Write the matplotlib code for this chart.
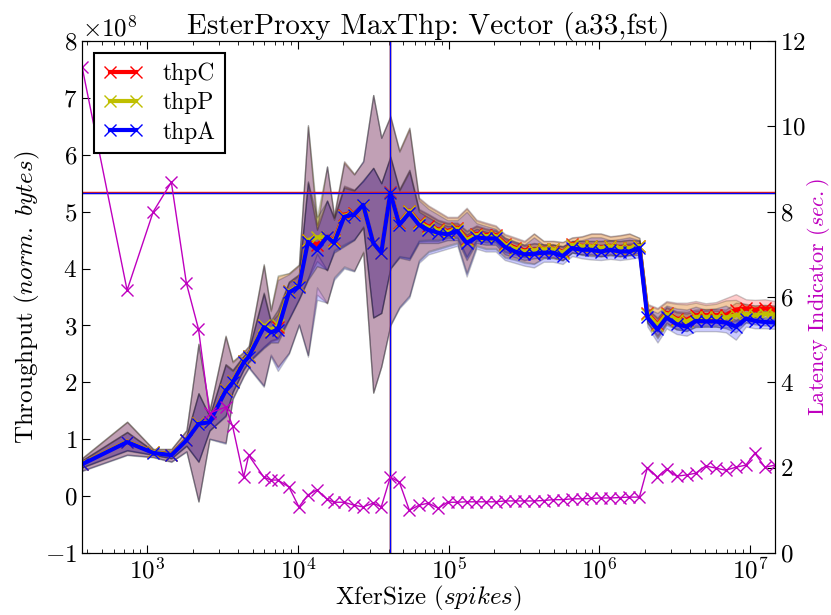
import numpy as np
import matplotlib
matplotlib.use("Agg")
import matplotlib.pyplot as plt

plt.rcParams['font.family'] = 'serif'
plt.rcParams['font.serif'] = ['cmr10']
plt.rcParams['mathtext.fontset'] = 'cm'
plt.rcParams['axes.formatter.use_mathtext'] = True
plt.rcParams['axes.unicode_minus'] = True

# rozmiary transferu (spikes)
xfer = [369, 735, 1096, 1445, 1820, 2188, 2591, 3311, 3687, 4365, 4714, 5934, 6607, 7356, 8710,
        10155, 11659, 13389, 15609, 17378, 20263, 23625, 27128, 31623, 35759, 41058, 47137,
        54954, 63580, 73560, 85230, 98470, 114300, 131800, 153200, 176500, 205500, 236300,
        275400, 318700, 368800, 427200, 493500, 571900, 660700, 766800, 884500, 1025000,
        1184000, 1372000, 1585000, 1848000,
        2089000, 2436000, 2797000, 3261000, 3802000, 4365000, 5089000, 5934000, 6918000,
        8065000, 9404000, 10800000, 12590000, 14680000]

# przepustowosc (x 1e8 bajtow)
thpC = [0.57, 0.96, 0.77, 0.73, 0.99, 1.28, 1.31, 1.87, 2.02, 2.37, 2.47, 2.99, 2.90, 2.98, 3.60,
        3.70, 4.50, 4.42, 4.55, 4.50, 4.95, 4.97, 5.10, 4.45, 4.28, 5.35, 4.80,
        5.02, 4.82, 4.74, 4.69, 4.66, 4.72, 4.52, 4.61, 4.59, 4.59, 4.44, 4.37, 4.32, 4.33,
        4.35, 4.35, 4.29, 4.43, 4.40, 4.40, 4.37, 4.40, 4.37, 4.37, 4.40,
        3.22, 3.02, 3.22, 3.12, 3.10, 3.18, 3.18, 3.18, 3.18, 3.28, 3.30, 3.28, 3.30, 3.28]
thpP = [0.57, 0.96, 0.77, 0.73, 0.99, 1.28, 1.31, 1.87, 2.02, 2.37, 2.47, 3.00, 2.92, 3.00, 3.60,
        3.70, 4.50, 4.55, 4.55, 4.48, 4.93, 4.96, 5.10, 4.45, 4.28, 5.33, 4.79,
        5.01, 4.80, 4.72, 4.67, 4.64, 4.70, 4.50, 4.59, 4.57, 4.57, 4.42, 4.35, 4.30, 4.32,
        4.34, 4.34, 4.28, 4.42, 4.39, 4.39, 4.36, 4.39, 4.36, 4.36, 4.40,
        3.20, 3.00, 3.20, 3.10, 3.07, 3.15, 3.15, 3.15, 3.14, 3.18, 3.20, 3.18, 3.20, 3.19]
thpA = [0.56, 0.95, 0.76, 0.72, 0.98, 1.27, 1.30, 1.85, 2.00, 2.35, 2.45, 2.97, 2.88, 2.92, 3.58,
        3.68, 4.47, 4.33, 4.56, 4.45, 4.91, 4.95, 5.12, 4.45, 4.28, 5.33, 4.77,
        4.98, 4.77, 4.68, 4.63, 4.60, 4.66, 4.45, 4.55, 4.53, 4.53, 4.38, 4.30, 4.25, 4.26,
        4.28, 4.28, 4.22, 4.36, 4.33, 4.33, 4.30, 4.33, 4.30, 4.30, 4.36,
        3.14, 2.93, 3.14, 3.02, 2.98, 3.08, 3.07, 3.07, 3.05, 2.98, 3.12, 3.08, 3.06, 3.05]

# pasma dla thpA (min/max i wewnetrzne)
outLo = [0.44, 0.72, 0.68, 0.60, 0.78, -0.10, 1.00, 0.92, 1.70, 2.10, 2.25, 1.92, 2.45, 2.20, 2.50,
         3.00, 2.45, 3.45, 3.40, 3.80, 4.00, 3.95, 4.30, 1.82, 2.28, 3.00, 3.30,
         3.49, 4.10, 4.25, 4.30, 4.35, 4.40, 3.86, 4.35, 4.30, 4.30, 4.15, 4.10, 4.05, 4.02,
         4.12, 4.12, 4.08, 4.22, 4.18, 4.16, 4.15, 4.17, 4.15, 4.17, 4.20,
         2.98, 2.70, 2.95, 2.85, 2.82, 2.90, 2.90, 2.90, 2.88, 2.75, 2.98, 2.95, 2.95, 2.94]
inLo = [0.50, 0.80, 0.72, 0.66, 0.88, 0.60, 1.15, 1.40, 1.82, 2.22, 2.35, 2.60, 2.70, 2.70, 3.10,
        3.45, 3.80, 4.04, 3.98, 4.28, 4.39, 4.50, 4.74, 3.14, 3.22, 4.00, 4.19,
        4.15, 4.45, 4.45, 4.45, 4.50, 4.50, 4.15, 4.45, 4.42, 4.42, 4.25, 4.20, 4.15, 4.18,
        4.20, 4.20, 4.15, 4.28, 4.25, 4.25, 4.22, 4.25, 4.22, 4.24, 4.28,
        3.05, 2.82, 3.05, 2.93, 2.90, 2.98, 2.98, 2.98, 2.95, 2.88, 3.05, 3.02, 3.00, 3.00]
inHi = [0.62, 1.12, 0.79, 0.77, 1.05, 1.80, 1.40, 2.30, 2.20, 2.45, 2.55, 3.55, 3.05, 3.20, 3.75,
        3.88, 5.50, 4.68, 5.20, 4.86, 5.42, 5.37, 5.56, 5.77, 5.50, 5.96, 5.37,
        5.70, 5.00, 4.90, 4.80, 4.75, 4.75, 4.60, 4.70, 4.65, 4.62, 4.48, 4.40, 4.35, 4.38,
        4.36, 4.36, 4.32, 4.42, 4.42, 4.42, 4.42, 4.43, 4.42, 4.44, 4.45,
        3.22, 3.05, 3.25, 3.15, 3.12, 3.18, 3.18, 3.18, 3.15, 3.10, 3.20, 3.15, 3.12, 3.12]
outHi = [0.66, 1.30, 0.82, 0.82, 1.15, 2.67, 1.50, 2.80, 2.35, 2.52, 2.62, 4.05, 3.25, 3.80, 3.90,
         4.05, 6.49, 4.70, 5.80, 4.90, 5.85, 5.65, 5.90, 7.05, 6.30, 6.67, 6.05,
         6.44, 5.20, 5.05, 4.95, 4.85, 4.85, 5.00, 4.80, 4.75, 4.70, 4.55, 4.48, 4.42, 4.55,
         4.42, 4.42, 4.40, 4.48, 4.50, 4.55, 4.55, 4.50, 4.52, 4.55, 4.50,
         3.30, 3.22, 3.35, 3.30, 3.28, 3.33, 3.28, 3.30, 3.35, 3.25, 3.28, 3.25, 3.22, 3.20]

# wskaznik opoznienia (sek.)
latency = [11.4, 6.16, 8.0, 8.69, 6.32, 5.25, 3.28, 3.42, 2.97, 1.78, 2.29, 1.78, 1.71, 1.71, 1.55,
           1.08, 1.36, 1.48, 1.26, 1.19, 1.19, 1.12, 1.08, 1.17, 1.08, 1.78, 1.66,
           1.00, 1.12, 1.17, 1.05, 1.19, 1.19, 1.20, 1.20, 1.20, 1.20, 1.22, 1.22, 1.22, 1.22,
           1.23, 1.25, 1.25, 1.27, 1.27, 1.28, 1.29, 1.29, 1.30, 1.31, 1.31,
           2.00, 1.78, 1.97, 1.80, 1.83, 1.87, 2.04, 1.99, 1.94, 2.01, 2.06, 2.34, 2.01, 2.06]

nazwy = ['thpC', 'thpP', 'thpA']
kolory = ['r', 'y', 'b']
serie = [thpC, thpP, thpA]
skala = 1e8

x = np.array(xfer)
fig = plt.figure(figsize=(8.31, 6.15), dpi=100)
ax = fig.add_axes([0.0987, 0.1008, 0.8339, 0.8325])

aA = np.array(thpA)
uchwyty = []
for nazwa, kolor, s in zip(nazwy, kolory, serie):
    s = np.array(s)
    d = s - aA
    ax.fill_between(x, (np.array(outLo) + d) * skala, (np.array(outHi) + d) * skala,
                    facecolor=kolor, edgecolor='k', linewidth=1.0, alpha=0.2)
    ax.fill_between(x, (np.array(inLo) + d) * skala, (np.array(inHi) + d) * skala,
                    facecolor=kolor, edgecolor='k', linewidth=1.0, alpha=0.25)
for nazwa, kolor, s in zip(nazwy, kolory, serie):
    s = np.array(s)
    h, = ax.plot(x, s * skala, color=kolor, linewidth=3, marker='x', markersize=9,
                 markeredgewidth=1, label=nazwa)
    uchwyty.append(h)
    k = int(np.argmax(s))
    ax.axhline(s[k] * skala, color=kolor, linewidth=1)
    ax.axvline(x[k], color=kolor, linewidth=1)

ax.set_xscale('log')
ax.set_xlim(x[0], x[-1])
ax.set_ylim(-1e8, 8e8)
ax.set_yticks(np.arange(-1, 9) * 1e8)
ax.tick_params(which='both', direction='in', top=True, right=False, labelsize=18)
ax.tick_params(which='major', length=6)
ax.tick_params(which='minor', length=3)
ax.yaxis.get_offset_text().set_fontsize(18)
ax.set_xlabel(r'XferSize ($\mathit{spikes}$)', fontsize=18, labelpad=0)
ax.set_ylabel(r'Throughput ($\mathit{norm.\ bytes}$)', fontsize=18, labelpad=2)
ax.set_title('EsterProxy MaxThp: Vector (a33,fst)', fontsize=21, pad=3)

ax2 = ax.twinx()
ax2.plot(x, latency, color='m', linewidth=1, marker='x', markersize=9, markeredgewidth=1)
ax2.set_ylim(0, 12)
ax2.set_yticks(range(0, 13, 2))
ax2.tick_params(direction='in', length=6, labelsize=18)
ax2.set_ylabel(r'Latency Indicator ($\mathit{sec.}$)', fontsize=16, color='m')
ax2.yaxis.set_label_coords(1.043, 0.5)
ax2.set_xlim(x[0], x[-1])

leg = ax2.legend(uchwyty, nazwy, loc='upper left', fontsize=17, numpoints=2,
                 fancybox=False, framealpha=1, edgecolor='k', handlelength=1.7,
                 borderaxespad=0.5, labelspacing=0.3)
leg.get_frame().set_linewidth(1.5)

fig.savefig('out.png', dpi=100)
